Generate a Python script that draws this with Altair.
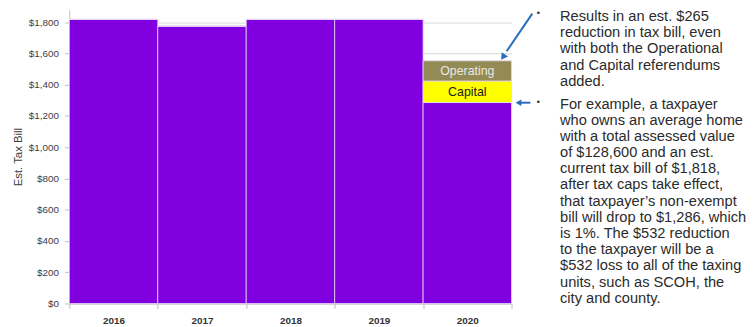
import altair as alt
import pandas as pd

years = ["2016", "2017", "2018", "2019", "2020"]
base_bill = [1818, 1775, 1818, 1818, 1286]
capital = [0, 0, 0, 0, 138]
operating = [0, 0, 0, 0, 129]
y_ticks = [0, 200, 400, 600, 800, 1000, 1200, 1400, 1600, 1800]

bullet1 = ["Results in an est. $265", "reduction in tax bill, even",
           "with both the Operational", "and Capital referendums", "added."]
bullet2 = ["For example, a taxpayer", "who owns an average home",
           "with a total assessed value", "of $128,600 and an est.",
           "current tax bill of $1,818,", "after tax caps take effect,",
           "that taxpayer\u2019s non-exempt", "bill will drop to $1,286, which",
           "is 1%.  The $532 reduction", "to the taxpayer will be a",
           "$532 loss to all of the taxing", "units, such as SCOH, the",
           "city and county."]

rows = []
for i, yr in enumerate(years):
    rows.append({"year": yr, "seg": "Base", "order": 0, "value": base_bill[i], "label": ""})
    rows.append({"year": yr, "seg": "Capital", "order": 1, "value": capital[i], "label": "Capital" if capital[i] else ""})
    rows.append({"year": yr, "seg": "Operating", "order": 2, "value": operating[i], "label": "Operating" if operating[i] else ""})
df = pd.DataFrame(rows)

W, H = 447, 297
FONT = "Liberation Sans"

base = alt.Chart(df).transform_stack(
    stack="value", groupby=["year"], as_=["y0", "y1"], sort=[alt.SortField("order")]
).transform_calculate(ymid="(datum.y0 + datum.y1) / 2")

x_axis = alt.Axis(labelAngle=0, labelFontWeight="bold", labelFont=FONT,
                  labelFontSize=10, labelColor="#333333", tickBand="extent",
                  tickSize=5, tickColor="#bfbfbf", domainColor="#bfbfbf",
                  labelPadding=7, grid=False)
x_scale = alt.Scale(paddingInner=0, paddingOuter=0)
y_axis = alt.Axis(values=y_ticks, format="$,.0f", labelFont=FONT, labelFontSize=10,
                  labelColor="#404040", titleFont=FONT, titleFontSize=11.5,
                  titleFontWeight="normal", titleColor="#404040", titlePadding=5,
                  tickSize=5, tickColor="#bfbfbf", domainColor="#bfbfbf",
                  gridColor="#d9d9d9", labelPadding=6, labelOverlap=False)
y_scale = alt.Scale(domain=[0, 1880], nice=False)

bars = base.mark_bar(stroke="#e6d6f7", strokeWidth=0.8).encode(
    x=alt.X("year:N", title=None, sort=years, scale=x_scale, axis=x_axis),
    y=alt.Y("y0:Q", title="Est. Tax Bill", scale=y_scale, axis=y_axis),
    y2="y1:Q",
    color=alt.Color("seg:N", legend=None,
                    scale=alt.Scale(domain=["Base", "Capital", "Operating"],
                                    range=["#8000E0", "#FFFF00", "#948A54"])),
)

seg_text = base.transform_filter("datum.label != ''").mark_text(
    font=FONT, fontSize=12.5, baseline="middle").encode(
    x=alt.X("year:N", title=None, sort=years, scale=x_scale, axis=x_axis),
    y=alt.Y("ymid:Q", title="Est. Tax Bill", scale=y_scale, axis=y_axis),
    text="label:N",
    color=alt.Color("seg:N", legend=None,
                    scale=alt.Scale(domain=["Capital", "Operating"],
                                    range=["#1a1a1a", "#e8e8e8"])),
)

one = pd.DataFrame({"a": [0]})
txt_color = "#2b2b2b"
t1 = alt.Chart(one).mark_text(text=bullet1, align="left", baseline="alphabetic", font=FONT,
                              fontSize=14.8, lineHeight=16.5, color=txt_color).encode(
    x=alt.value(496), y=alt.value(11))
t2 = alt.Chart(one).mark_text(text=bullet2, align="left", baseline="alphabetic", font=FONT,
                              fontSize=14.8, lineHeight=16.35, color=txt_color).encode(
    x=alt.value(496), y=alt.value(100))
b1 = alt.Chart(one).mark_text(text="\u2022", font=FONT, fontSize=9, color=txt_color).encode(
    x=alt.value(474), y=alt.value(3))
b2 = alt.Chart(one).mark_text(text="\u2022", font=FONT, fontSize=9, color=txt_color).encode(
    x=alt.value(474), y=alt.value(93))

arrow_c = "#2a6ebb"
a1 = alt.Chart(one).mark_rule(color=arrow_c, strokeWidth=2).encode(
    x=alt.value(468), x2=alt.value(442), y=alt.value(4), y2=alt.value(42))
a1h = alt.Chart(one).mark_point(shape="triangle", angle=214, filled=True, size=60,
                                color=arrow_c, opacity=1).encode(
    x=alt.value(439), y=alt.value(47))
a2 = alt.Chart(one).mark_rule(color=arrow_c, strokeWidth=2).encode(
    x=alt.value(466), x2=alt.value(456), y=alt.value(94), y2=alt.value(94))
a2h = alt.Chart(one).mark_point(shape="triangle-left", filled=True, size=45,
                                color=arrow_c, opacity=1).encode(
    x=alt.value(454), y=alt.value(94))

chart = alt.layer(bars, seg_text, t1, t2, b1, b2, a1, a1h, a2, a2h).resolve_scale(
    color="independent"
).properties(
    width=W, height=H,
    autosize=alt.AutoSizeParams(type="none"),
    padding={"left": 62, "top": 0, "right": 238, "bottom": 22},
).configure_view(stroke=None)

chart.save("out.html", embed_options={"renderer": "svg", "actions": False})
